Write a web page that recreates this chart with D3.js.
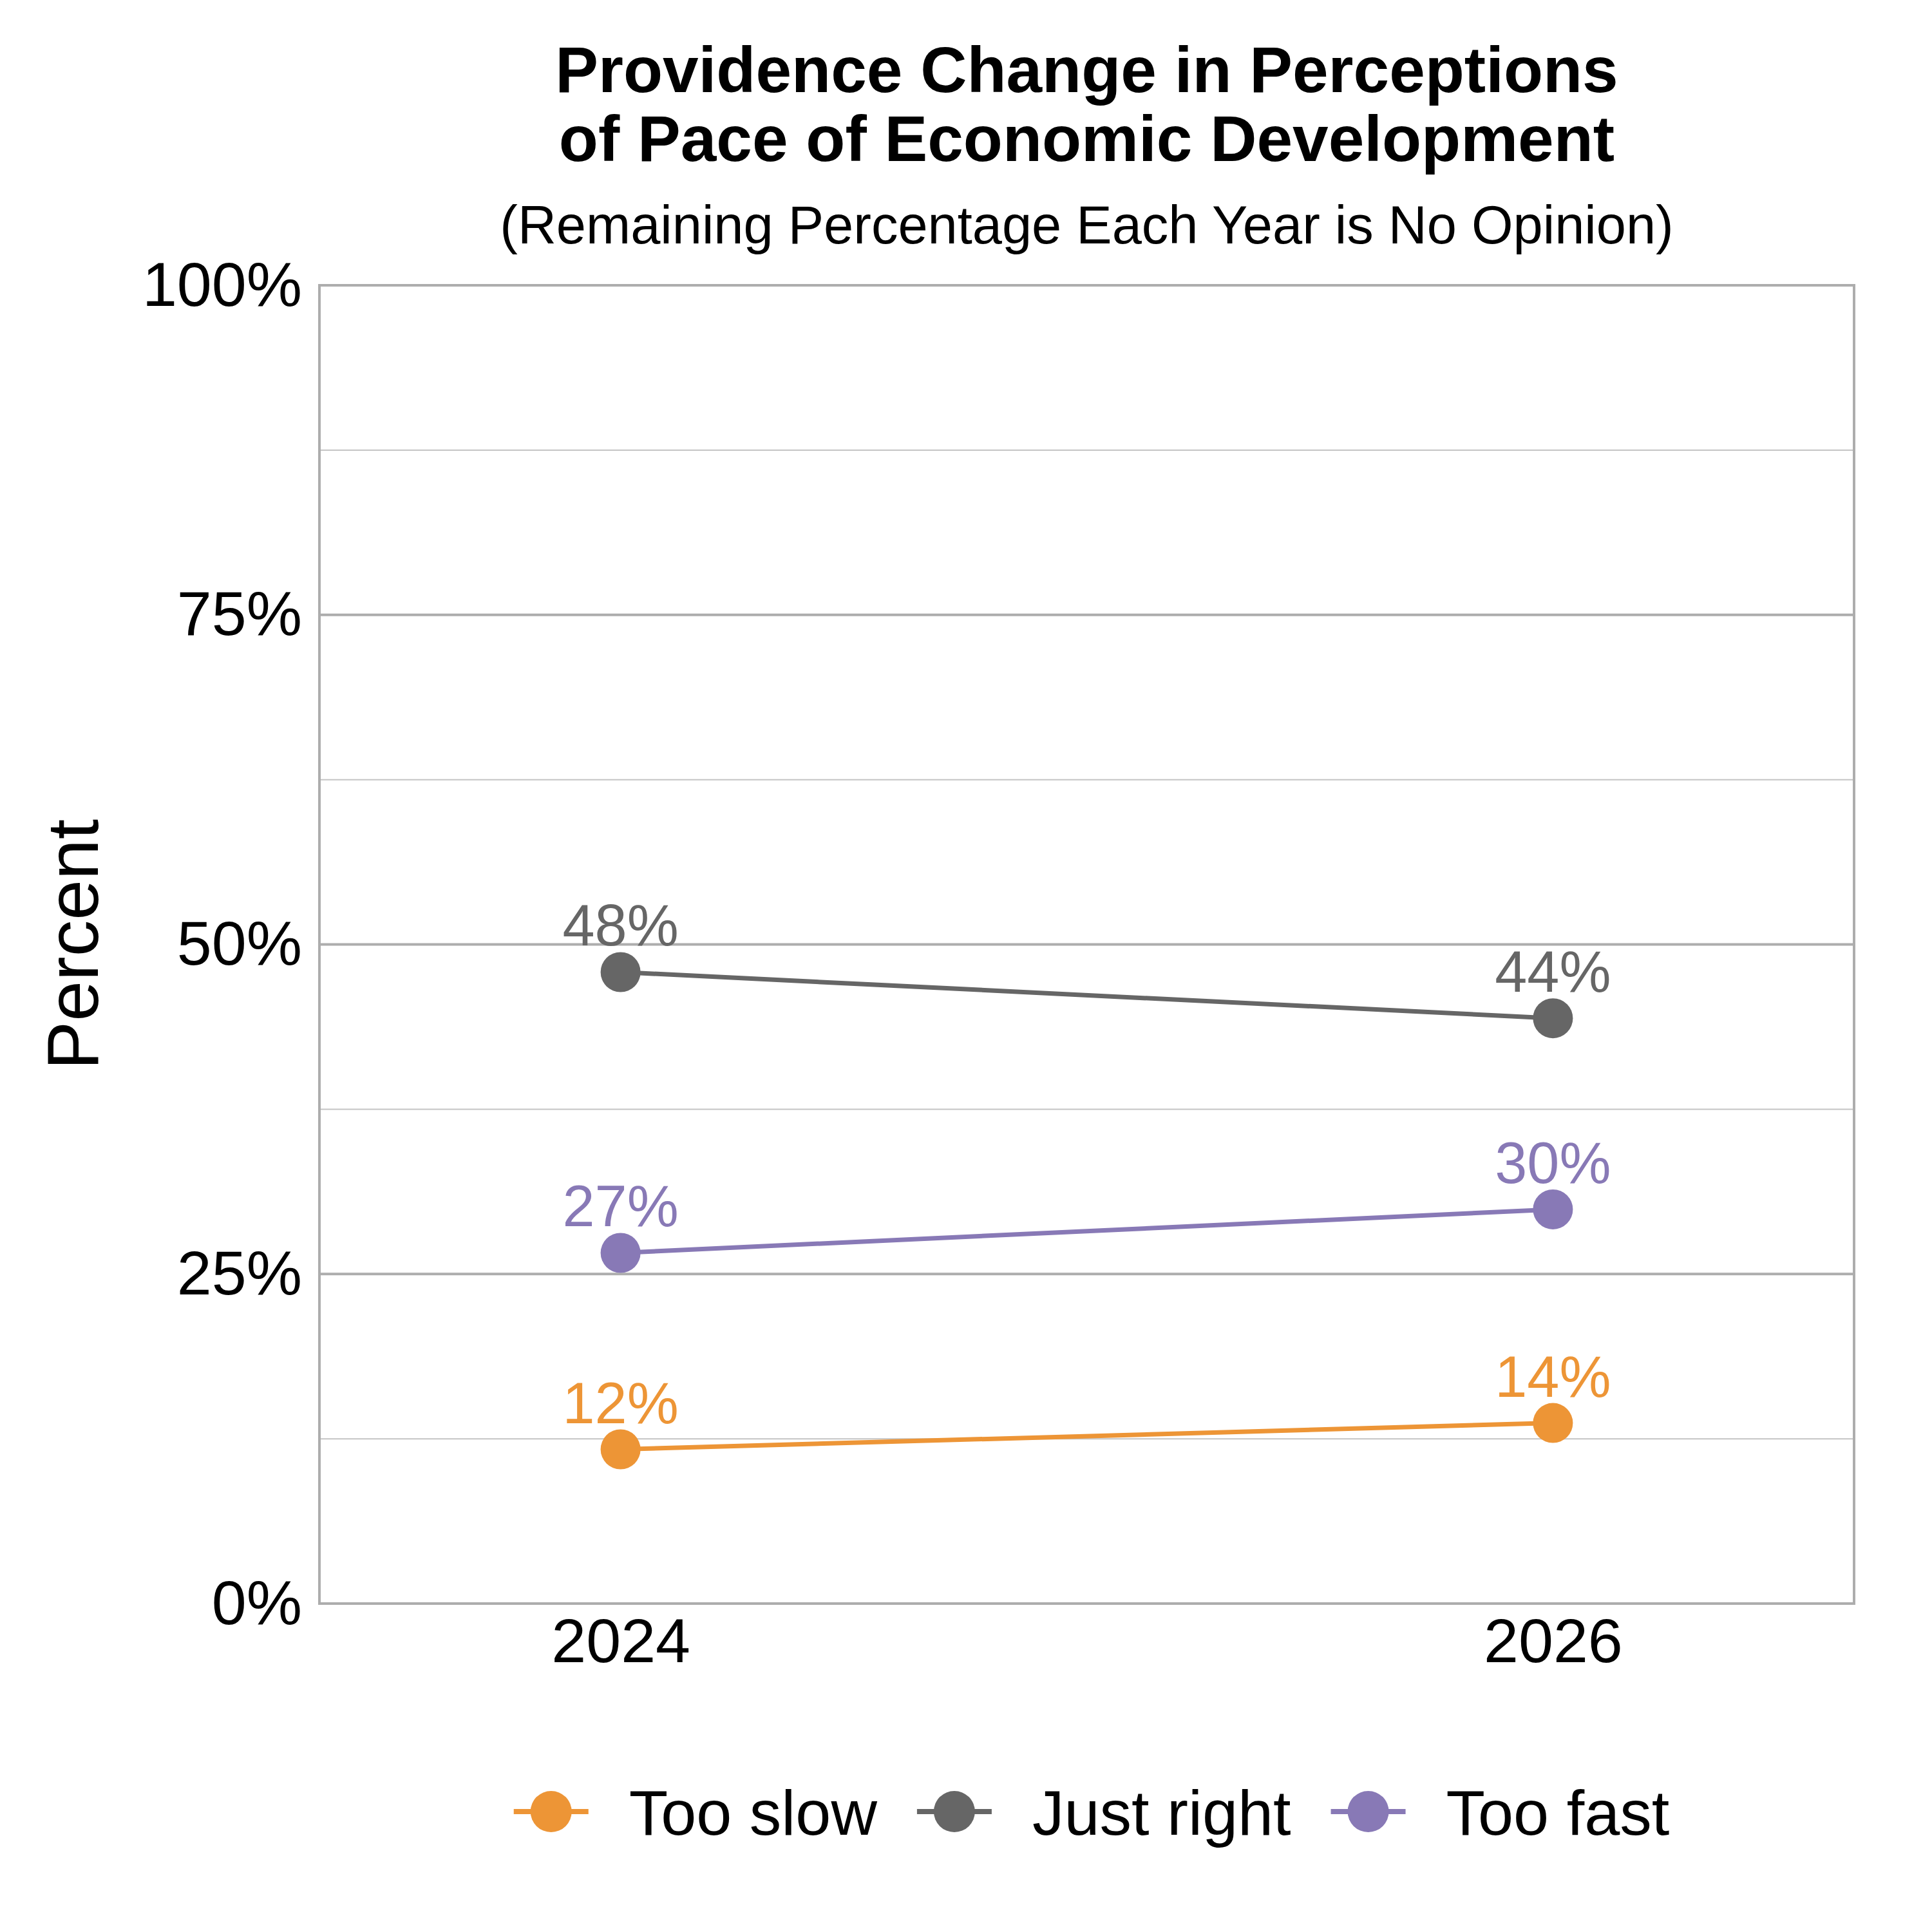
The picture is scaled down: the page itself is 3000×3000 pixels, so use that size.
<!DOCTYPE html>
<html>
<head>
<meta charset="utf-8">
<script src="https://cdn.jsdelivr.net/npm/d3@7"></script>
<style>
  body { margin: 0; background: #fff; }
  text { font-family: "Liberation Sans", Arial, sans-serif; }
</style>
</head>
<body>
<svg id="chart" width="3000" height="3000"></svg>
<script>
// data
var years = ["2024", "2026"];
var seriesNames = ["Too slow", "Just right", "Too fast"];
var tooSlow = [11.7, 13.7];
var justRight = [47.9, 44.4];
var tooFast = [26.6, 29.9];
var seriesColors = ["#ED9536", "#666666", "#8879B6"];
var majorTicks = [0, 25, 50, 75, 100];
var minorTicks = [12.5, 37.5, 62.5, 87.5];

var titleLines = ["Providence Change in Perceptions", "of Pace of Economic Development"];
var subtitle = "(Remaining Percentage Each Year is No Opinion)";

var series = seriesNames.map(function(name, i) {
  var vals = [tooSlow, justRight, tooFast][i];
  return {name: name, color: seriesColors[i], values: years.map(function(y, j) { return {year: y, value: vals[j]}; })};
});

var svg = d3.select("#chart");
svg.append("rect").attr("width", 3000).attr("height", 3000).attr("fill", "#fff");

var margin = {top: 443, left: 496, right: 121, bottom: 510};
var x = d3.scalePoint()
  .domain(years)
  .range([margin.left, 3000 - margin.right])
  .padding(0.323);
var y = d3.scaleLinear()
  .domain([0, 100])
  .range([3000 - margin.bottom, margin.top]);

var x0 = x.range()[0], x1 = x.range()[1];
var cx = (x0 + x1) / 2;

// grid
svg.append("g").selectAll("line")
  .data(minorTicks)
  .join("line")
  .attr("x1", x0).attr("x2", x1)
  .attr("y1", d => y(d)).attr("y2", d => y(d))
  .attr("stroke", "#c4c4c4").attr("stroke-width", 2);
svg.append("g").selectAll("line")
  .data(majorTicks)
  .join("line")
  .attr("x1", x0).attr("x2", x1)
  .attr("y1", d => y(d)).attr("y2", d => y(d))
  .attr("stroke", "#adadad").attr("stroke-width", 4);

// panel border
svg.append("rect")
  .attr("x", x0).attr("y", y(100))
  .attr("width", x1 - x0).attr("height", y(0) - y(100))
  .attr("fill", "none").attr("stroke", "#adadad").attr("stroke-width", 4);

// axes
var yAxis = svg.append("g")
  .attr("transform", `translate(${x0},0)`)
  .call(d3.axisLeft(y).tickValues(majorTicks).tickSize(0).tickPadding(27).tickFormat(d => d + "%"));
yAxis.select(".domain").remove();
yAxis.selectAll("text").attr("font-size", 97).attr("fill", "#000")
  .attr("font-family", "Liberation Sans, Arial, sans-serif");

var xAxis = svg.append("g")
  .attr("transform", `translate(0,${y(0)})`)
  .call(d3.axisBottom(x).tickSize(0).tickPadding(22));
xAxis.select(".domain").remove();
xAxis.selectAll("text").attr("font-size", 97).attr("fill", "#000")
  .attr("font-family", "Liberation Sans, Arial, sans-serif");

// lines
var line = d3.line().x(d => x(d.year)).y(d => y(d.value));
var sg = svg.append("g").selectAll("g")
  .data(series)
  .join("g");
sg.append("path")
  .attr("d", d => line(d.values))
  .attr("fill", "none")
  .attr("stroke", d => d.color)
  .attr("stroke-width", 7);
sg.selectAll("circle")
  .data(d => d.values.map(v => Object.assign({color: d.color}, v)))
  .join("circle")
  .attr("cx", d => x(d.year)).attr("cy", d => y(d.value))
  .attr("r", 31)
  .attr("fill", d => d.color);
sg.selectAll(".lbl")
  .data(d => d.values.map(v => Object.assign({color: d.color}, v)))
  .join("text")
  .attr("class", "lbl")
  .attr("x", d => x(d.year)).attr("y", d => y(d.value) - 41)
  .attr("text-anchor", "middle")
  .attr("font-size", 90)
  .attr("fill", d => d.color)
  .text(d => Math.round(d.value) + "%");

// titles
svg.append("g").selectAll("text")
  .data(titleLines)
  .join("text")
  .attr("x", cx).attr("y", (d, i) => 143 + i * 107)
  .attr("text-anchor", "middle")
  .attr("font-size", 100).attr("font-weight", "bold")
  .text(d => d);
svg.append("text")
  .attr("x", cx).attr("y", 378)
  .attr("text-anchor", "middle")
  .attr("font-size", 83)
  .text(subtitle);

svg.append("text")
  .attr("transform", `translate(152,${(y(0) + y(100)) / 2}) rotate(-90)`)
  .attr("text-anchor", "middle")
  .attr("font-size", 113)
  .text("Percent");

// legend
var legY = 2813;
var leg = svg.append("g");
var items = leg.selectAll("g")
  .data(series)
  .join("g");
items.append("line")
  .attr("x1", -58).attr("x2", 58)
  .attr("stroke", d => d.color).attr("stroke-width", 8);
items.append("circle").attr("r", 32).attr("fill", d => d.color);
items.append("text")
  .attr("x", 121).attr("dy", "0.36em")
  .attr("font-size", 99)
  .text(d => d.name);

var widths = [];
items.select("text").each(function() { widths.push(this.getComputedTextLength()); });
var total = d3.sum(widths) + widths.length * 179 + (widths.length - 1) * 62;
var pos = 1695 - total / 2 + 58;
items.attr("transform", function(d, i) {
  var t = `translate(${pos},${legY})`;
  pos += 121 + widths[i] + 62 + 58;
  return t;
});
</script>
</body>
</html>
